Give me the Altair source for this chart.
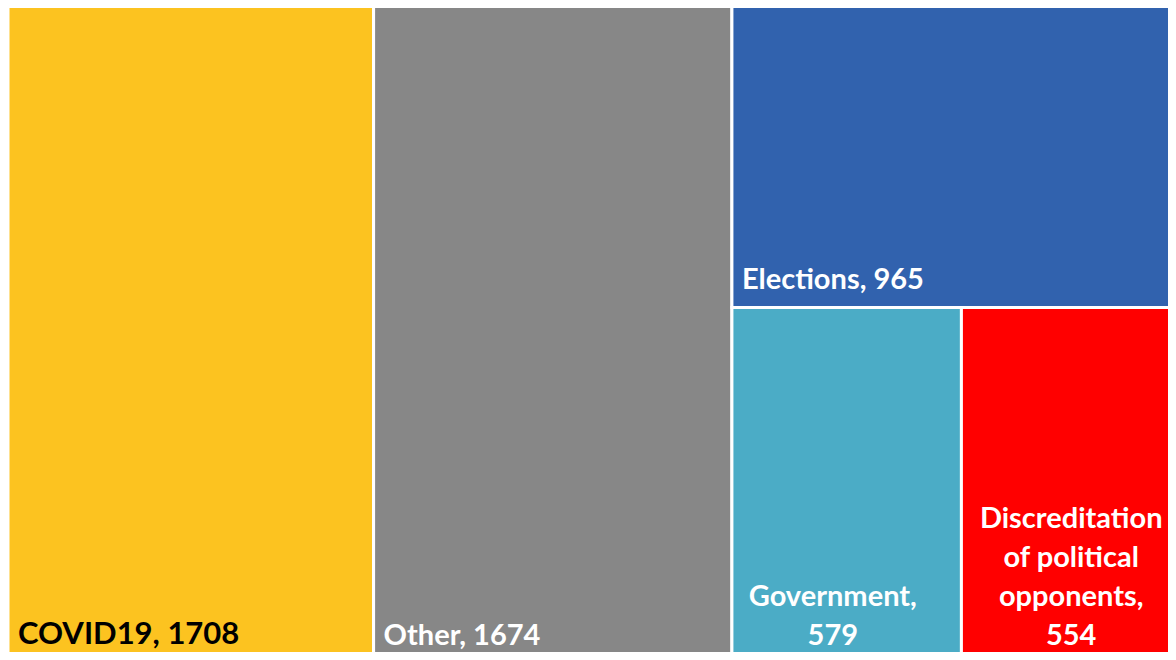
import altair as alt
import pandas as pd

categories = ["COVID19", "Other", "Elections", "Government",
              "Discreditation of political opponents"]
values = [1708, 1674, 965, 579, 554]
labels = ["COVID19, 1708", "Other, 1674", "Elections, 965", "Government,\n579",
          "Discreditation\nof political\nopponents,\n554"]
fill_colors = ["#FCC320", "#878787", "#3162AE", "#4BACC6", "#FF0000"]
text_colors = ["#000000", "#FFFFFF", "#FFFFFF", "#FFFFFF", "#FFFFFF"]

# visible canvas (page is 1176x660 with 8px margins)
W, H = 1160, 644
# the treemap itself runs slightly past the visible canvas, as in the source
X_RANGE = [0, 1173]
Y_RANGE = [-3.3, 655]
FS = 29
LH = 39
PAD = 10

total = float(sum(values))

# treemap layout: first two as full-height columns, remainder split
# vertically (Elections on top), then the bottom row split horizontally.
rects = []
x = 0.0
for v in values[:2]:
    rects.append((x, x + v, 0.0, 1.0))
    x += v
rest = total - x
top_frac = values[2] / rest
rects.append((x, total, 0.0, top_frac))
bottom = sum(values[3:])
bx = x
for v in values[3:]:
    w = rest * v / bottom
    rects.append((bx, bx + w, top_frac, 1.0))
    bx += w

u_per_px_x = total / (X_RANGE[1] - X_RANGE[0])
u_per_px_y = 1.0 / (Y_RANGE[1] - Y_RANGE[0])
rows = []
for i, (cat, v, lab, fc, tc, (x0, x1, y0, y1)) in enumerate(
        zip(categories, values, labels, fill_colors, text_colors, rects)):
    lines = lab.split("\n")
    n = len(lines)
    multi = n > 1
    est_w = max(len(l) for l in lines) * 0.57 * FS
    centre = (x0 + x1) / 2
    tx = x0 if not multi else min(centre, x0 + (PAD + est_w / 2) * u_per_px_x)
    ty = y1 - (n - 1) * LH * u_per_px_y
    rows.append(dict(cat=cat, value=v, label=lab, fill=fc, tcol=tc,
                     x0=x0, x1=x1, y0=y0, y1=y1, tx=tx, ty=ty,
                     multi=multi, first=(i == 0)))
df = pd.DataFrame(rows)

xs = alt.Scale(domain=[0, total], range=X_RANGE, nice=False, zero=False)
ys = alt.Scale(domain=[0, 1], range=Y_RANGE, nice=False, zero=False)

base = alt.Chart(df)

rect = base.mark_rect(stroke="white", strokeWidth=3).encode(
    x=alt.X("x0:Q", scale=xs, axis=None),
    x2="x1:Q",
    y=alt.Y("y0:Q", scale=ys, axis=None),
    y2="y1:Q",
    color=alt.Color("fill:N", scale=None, legend=None),
)

text_enc = dict(
    x=alt.X("tx:Q", scale=xs, axis=None),
    y=alt.Y("ty:Q", scale=ys, axis=None),
    text="label:N",
    color=alt.Color("tcol:N", scale=None, legend=None),
)

txt_first = base.transform_filter("datum.first").mark_text(
    align="left", baseline="bottom", dx=PAD, dy=-12,
    fontSize=FS + 2, font="Lato", fontWeight="bold",
).encode(**text_enc)

txt_single = base.transform_filter("!datum.multi && !datum.first").mark_text(
    align="left", baseline="bottom", dx=PAD, dy=-12,
    fontSize=FS, font="Lato", fontWeight="bold",
).encode(**text_enc)

txt_multi = base.transform_filter("datum.multi").mark_text(
    align="center", baseline="bottom", dy=-12, lineHeight=LH,
    fontSize=FS, font="Lato", fontWeight="bold", lineBreak="\n",
).encode(**text_enc)

chart = (rect + txt_first + txt_single + txt_multi).properties(
    width=W, height=H, padding=0,
    autosize=alt.AutoSizeParams(type="none"),
    background="white",
).configure_view(stroke=None)

chart.save("out.html", embed_options={"renderer": "svg", "actions": False})
